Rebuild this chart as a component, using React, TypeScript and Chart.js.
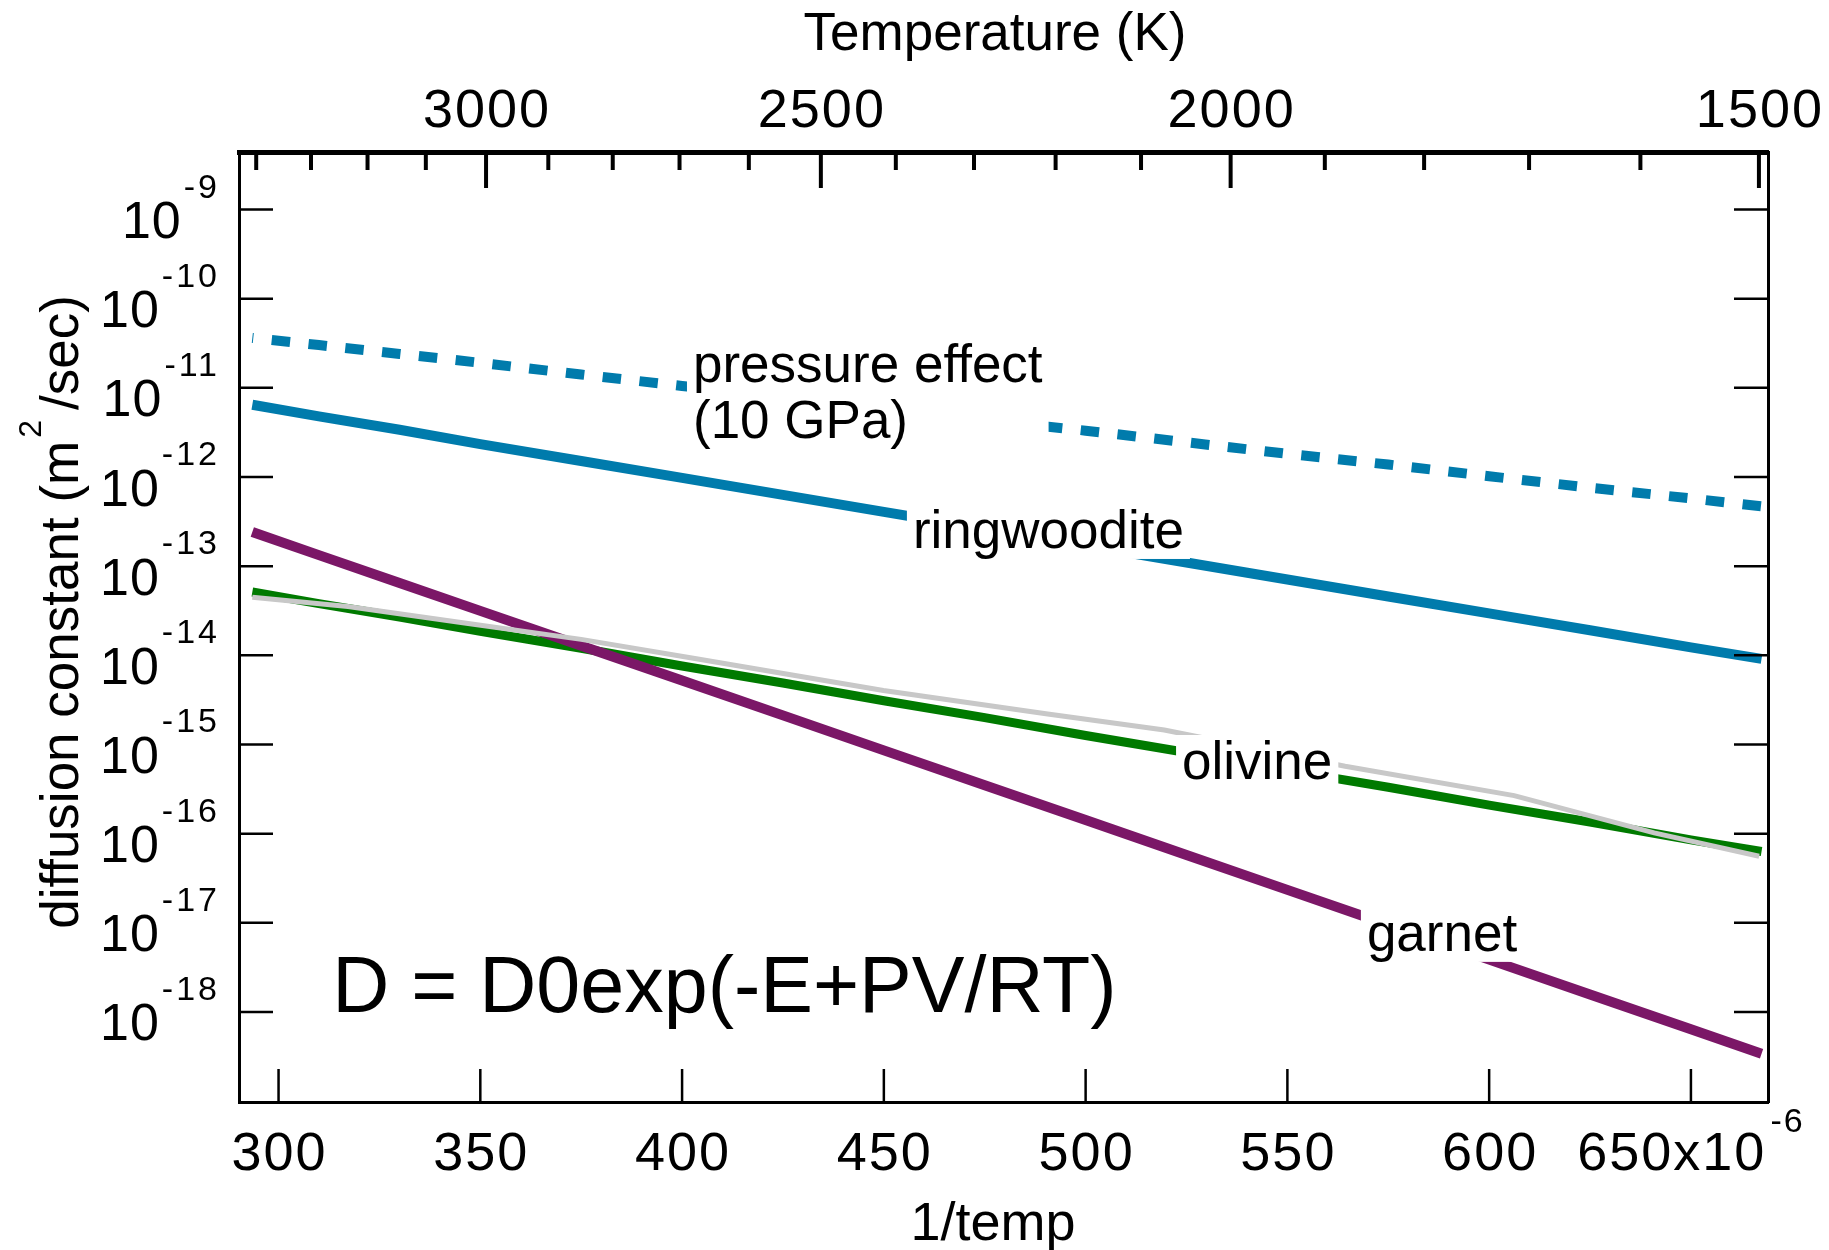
import React, { useEffect, useRef } from 'react';
import { Chart, registerables } from 'chart.js';

Chart.register(...registerables);

const FONT = '"Liberation Sans", Arial, sans-serif';

// ---- data (x = 1/T in units of 1e-6 K^-1, y = diffusion constant m^2/s) ----
const xGrid = [293.5, 310, 330, 350, 375, 400, 425, 450, 475, 500, 525, 550, 575, 600, 625, 650, 667.5];
const ringwooditeD = [6.46e-12, 4.79e-12, 3.39e-12, 2.34e-12, 1.51e-12, 9.77e-13, 6.31e-13, 4.07e-13, 2.63e-13, 1.7e-13, 1.1e-13, 7.08e-14, 4.57e-14, 2.95e-14, 1.91e-14, 1.23e-14, 9.12e-15];
const pressureD = [3.63e-11, 3.02e-11, 2.4e-11, 1.91e-11, 1.41e-11, 1.05e-11, 7.94e-12, 5.89e-12, 4.37e-12, 3.31e-12, 2.45e-12, 1.82e-12, 1.38e-12, 1.02e-12, 7.59e-13, 5.75e-13, 4.68e-13];
const olivineD = [5.13e-14, 3.8e-14, 2.69e-14, 1.86e-14, 1.2e-14, 7.59e-15, 4.9e-15, 3.09e-15, 2.0e-15, 1.26e-15, 8.13e-16, 5.13e-16, 3.31e-16, 2.09e-16, 1.35e-16, 8.51e-17, 6.31e-17];
const garnetD = [2.42e-13, 1.33e-13, 6.49e-14, 3.15e-14, 1.28e-14, 5.21e-15, 2.12e-15, 8.59e-16, 3.49e-16, 1.42e-16, 5.77e-17, 2.34e-17, 9.53e-18, 3.86e-18, 1.57e-18, 6.38e-19, 3.4e-19];
const grayX = [293.5, 317.2, 346.1, 375.0, 403.9, 449.9, 490.6, 519.5, 564.3, 606.2, 640.9, 666.9];
const grayD = [4.48e-14, 3.52e-14, 2.31e-14, 1.51e-14, 9.08e-15, 4.03e-15, 2.2e-15, 1.45e-15, 5.69e-16, 2.67e-16, 1.02e-16, 5.58e-17];

// ---- axes / ticks ----
const X_MIN = 290.2;
const X_MAX = 669.1;
const Y_MIN = 9.77e-20;
const Y_MAX = 4.42e-9;
const T_MIN = 1492.6;
const T_MAX = 3432;
const bottomTicks = [300, 350, 400, 450, 500, 550, 600, 650];
const bottomExponent = '-6';
const topMajorT = [3000, 2500, 2000, 1500];
const topMinorT = [3400, 3300, 3200, 3100, 2900, 2800, 2700, 2600, 2400, 2300, 2200, 2100, 1900, 1800, 1700, 1600];
const yTickExps = [-9, -10, -11, -12, -13, -14, -15, -16, -17, -18];

const topTitle = 'Temperature (K)';
const bottomTitle = '1/temp';
const yTitleParts = ['diffusion constant (m', '2', '/sec)'];
const equation = 'D = D0exp(-E+PV/RT)';

// annotation anchors in data coordinates
const annotations = [
  { lines: ['pressure effect', '(10 GPa)'], x: 402.7, y: 1.16e-11 },
  { lines: ['ringwoodite'], x: 457.2, y: 1.6e-13 },
  { lines: ['olivine'], x: 523.9, y: 4.1e-16 },
  { lines: ['garnet'], x: 569.7, y: 4.84e-18 },
];
const equationAnchor = { x: 313.3, y: 1e-18 };

const pts = (xs: number[], ys: number[]) => xs.map((x, i) => ({ x, y: ys[i] }));

const decorPlugin = {
  id: 'decor',
  afterDatasetsDraw(chart: any) {
    const { ctx } = chart;
    const xs = chart.scales.x;
    const ys = chart.scales.y;
    ctx.save();
    ctx.textBaseline = 'alphabetic';
    ctx.textAlign = 'left';
    ctx.font = `53px ${FONT}`;
    for (const a of annotations) {
      const px = xs.getPixelForValue(a.x);
      const py = ys.getPixelForValue(a.y);
      const w = Math.max(...a.lines.map((l) => ctx.measureText(l).width));
      const top = py - 44;
      const bottom = py + (a.lines.length - 1) * 56 + 11;
      ctx.fillStyle = '#ffffff';
      ctx.fillRect(px - 6, top, w + 12, bottom - top);
      ctx.fillStyle = '#000000';
      a.lines.forEach((l, i) => ctx.fillText(l, px, py + i * 56));
    }
    ctx.font = `79px ${FONT}`;
    ctx.fillText(equation, xs.getPixelForValue(equationAnchor.x), ys.getPixelForValue(equationAnchor.y));
    ctx.restore();
  },
  afterDraw(chart: any) {
    const { ctx, chartArea } = chart;
    const { left, right, top, bottom } = chartArea;
    const xs = chart.scales.x;
    const ys = chart.scales.y;
    const xt = chart.scales.xT;
    ctx.save();
    ctx.strokeStyle = '#000';
    ctx.fillStyle = '#000';
    const line = (x1: number, y1: number, x2: number, y2: number, w: number) => {
      ctx.lineWidth = w;
      ctx.beginPath();
      ctx.moveTo(x1, y1);
      ctx.lineTo(x2, y2);
      ctx.stroke();
    };
    const setSpacing = (s: string) => {
      try { (ctx as any).letterSpacing = s; } catch (e) { /* ignore */ }
    };
    // bottom ticks + labels
    ctx.textBaseline = 'alphabetic';
    for (const v of bottomTicks) {
      const px = xs.getPixelForValue(v);
      line(px, bottom, px, bottom - 33, 2.5);
    }
    setSpacing('2px');
    ctx.font = `54px ${FONT}`;
    bottomTicks.forEach((v, i) => {
      const px = xs.getPixelForValue(v);
      if (i < bottomTicks.length - 1) {
        ctx.textAlign = 'center';
        ctx.fillText(String(v), px + 1, 1170);
      } else {
        const main = `${v}x10`;
        ctx.font = `54px ${FONT}`;
        const wm = ctx.measureText(main).width;
        ctx.font = `34px ${FONT}`;
        const ws = ctx.measureText(bottomExponent).width;
        const start = px - (wm + 4 + ws) / 2;
        ctx.textAlign = 'left';
        ctx.font = `54px ${FONT}`;
        ctx.fillText(main, start, 1170);
        ctx.font = `34px ${FONT}`;
        ctx.fillText(bottomExponent, start + wm + 4, 1132);
      }
    });
    // top ticks + labels
    for (const t of topMinorT) {
      const px = xt.getPixelForValue(t);
      line(px, top, px, top + 18, 4);
    }
    ctx.font = `54px ${FONT}`;
    ctx.textAlign = 'center';
    for (const t of topMajorT) {
      const px = xt.getPixelForValue(t);
      line(px, top, px, top + 36, 4);
      ctx.fillText(String(t), px + 1, 127);
    }
    // left / right ticks + labels
    for (const e of yTickExps) {
      const py = ys.getPixelForValue(Math.pow(10, e));
      line(left, py, left + 34, py, 2.5);
      line(right, py, right - 34, py, 2.5);
      ctx.textAlign = 'right';
      setSpacing('3px');
      ctx.font = `34px ${FONT}`;
      const sup = String(e);
      const ws = ctx.measureText(sup).width;
      ctx.fillText(sup, 220, py - 12);
      setSpacing('1px');
      ctx.font = `52px ${FONT}`;
      ctx.fillText('10', 220 - ws - 2, py + 28.5);
    }
    setSpacing('0px');
    // titles
    ctx.textAlign = 'center';
    ctx.font = `53px ${FONT}`;
    ctx.fillText(topTitle, 995, 50);
    ctx.font = `54px ${FONT}`;
    ctx.fillText(bottomTitle, 993, 1240);
    // y title (rotated)
    ctx.save();
    ctx.translate(78, 612);
    ctx.rotate(-Math.PI / 2);
    ctx.textAlign = 'left';
    ctx.font = `53px ${FONT}`;
    const w1 = ctx.measureText(yTitleParts[0]).width;
    const w3 = ctx.measureText(yTitleParts[2]).width;
    ctx.font = `32px ${FONT}`;
    const w2 = ctx.measureText(yTitleParts[1]).width;
    const total = w1 + 3 + w2 + 10 + w3;
    let cx = -total / 2;
    ctx.font = `53px ${FONT}`;
    ctx.fillText(yTitleParts[0], cx, 0);
    cx += w1 + 3;
    ctx.font = `32px ${FONT}`;
    ctx.fillText(yTitleParts[1], cx, -37);
    cx += w2 + 10;
    ctx.font = `53px ${FONT}`;
    ctx.fillText(yTitleParts[2], cx, 0);
    ctx.restore();
    ctx.restore();
  },
};

const hiddenAxis = {
  grid: { display: false, drawTicks: false },
  ticks: { display: false },
};

export default function App() {
  const ref = useRef<HTMLCanvasElement>(null);
  useEffect(() => {
    document.body.style.margin = '0';
    document.body.style.overflow = 'hidden';
    const canvas = ref.current;
    if (!canvas) return;
    const chart = new Chart(canvas, {
      type: 'line',
      data: {
        datasets: [
          { label: 'gray', data: pts(grayX, grayD), borderColor: '#c8c8c8', borderWidth: 5 },
          { label: 'garnet', data: pts(xGrid, garnetD), borderColor: '#7b1767', borderWidth: 10 },
          { label: 'olivine', data: pts(xGrid, olivineD), borderColor: '#007a00', borderWidth: 9 },
          { label: 'ringwoodite', data: pts(xGrid, ringwooditeD), borderColor: '#007bac', borderWidth: 10 },
          { label: 'pressure effect', data: pts(xGrid, pressureD), borderColor: '#007bac', borderWidth: 10, borderDash: [18.5, 18.5], borderDashOffset: 17.5 },
        ],
      },
      options: {
        animation: false,
        responsive: false,
        devicePixelRatio: 1,
        layout: { padding: 0 },
        elements: {
          point: { radius: 0, hoverRadius: 0 },
          line: { tension: 0, borderCapStyle: 'butt', borderJoinStyle: 'miter', fill: false },
        },
        plugins: { legend: { display: false }, tooltip: { enabled: false } },
        events: [],
        scales: {
          x: {
            type: 'linear', position: 'bottom', min: X_MIN, max: X_MAX, ...hiddenAxis,
            border: { display: true, color: '#000', width: 3 },
            afterFit: (s: any) => { s.height = 148; },
          },
          xT: {
            type: 'logarithmic', position: 'top', axis: 'x', min: T_MIN, max: T_MAX, reverse: true, ...hiddenAxis,
            border: { display: true, color: '#000', width: 5 },
            afterFit: (s: any) => { s.height = 152; },
          },
          y: {
            type: 'logarithmic', position: 'left', min: Y_MIN, max: Y_MAX, ...hiddenAxis,
            border: { display: true, color: '#000', width: 3 },
            afterFit: (s: any) => { s.width = 239; },
          },
          yR: {
            type: 'logarithmic', position: 'right', axis: 'y', min: Y_MIN, max: Y_MAX, ...hiddenAxis,
            border: { display: true, color: '#000', width: 3 },
            afterFit: (s: any) => { s.width = 61; },
          },
        },
      } as any,
      plugins: [decorPlugin],
    });
    return () => chart.destroy();
  }, []);
  return (
    <canvas
      ref={ref}
      width={1829}
      height={1250}
      style={{ display: 'block', width: '1829px', height: '1250px' }}
    />
  );
}
